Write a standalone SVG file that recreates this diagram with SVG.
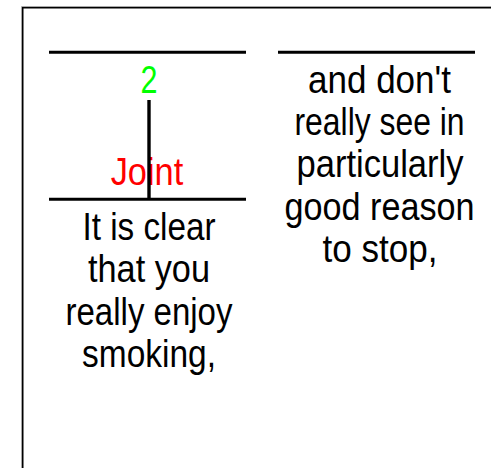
<svg xmlns="http://www.w3.org/2000/svg" width="491" height="468" viewBox="0 0 491 468">
  <style>
    .t { font-family: "Liberation Sans", Arial, sans-serif; font-size: 38px; fill: #000; text-anchor: middle; }
    .bar { stroke: #000; stroke-width: 3; fill: none; }
  </style>
  <rect x="0" y="0" width="491" height="468" fill="#fff"/>
  <g id="frame">
    <path d="M21.5 468 V6.5 H491" stroke="#a8a8a8" stroke-width="1" fill="none"/>
    <path d="M22.75 468 V7.75 H491" stroke="#000" stroke-width="1.5" fill="none"/>
  </g>
  <g id="node-joint">
    <line class="bar" x1="49" y1="52.2" x2="246" y2="52.2"/>
    <text class="t" x="149" y="92.7" fill="#00ff00" style="fill:#00ff00" textLength="17" lengthAdjust="spacingAndGlyphs">2</text>
    <text class="t" x="147" y="185" style="fill:#ff0000" textLength="72.6" lengthAdjust="spacingAndGlyphs">Joint</text>
    <line class="bar" x1="49" y1="199.2" x2="246" y2="199.2"/>
    <text class="t" x="149" y="240" textLength="133" lengthAdjust="spacingAndGlyphs">It is clear</text>
    <text class="t" x="149" y="282.3" textLength="122" lengthAdjust="spacingAndGlyphs">that you</text>
    <text class="t" x="149" y="324.5" textLength="167" lengthAdjust="spacingAndGlyphs">really enjoy</text>
    <text class="t" x="149" y="366.7" textLength="134" lengthAdjust="spacingAndGlyphs">smoking,</text>
  </g>
  <g id="node-right">
    <line class="bar" x1="278" y1="52.2" x2="475" y2="52.2"/>
    <text class="t" x="379.5" y="92.7" textLength="143" lengthAdjust="spacingAndGlyphs">and don't</text>
    <text class="t" x="379.5" y="135" textLength="170" lengthAdjust="spacingAndGlyphs">really see in</text>
    <text class="t" x="380" y="177.3" textLength="167" lengthAdjust="spacingAndGlyphs">particularly</text>
    <text class="t" x="379.5" y="219.5" textLength="190" lengthAdjust="spacingAndGlyphs">good reason</text>
    <text class="t" x="380" y="261.7" textLength="115" lengthAdjust="spacingAndGlyphs">to stop,</text>
  </g>
  <g id="connectors">
    <line x1="149" y1="100" x2="149" y2="199" stroke="#000" stroke-width="3.4"/>
  </g>
</svg>
